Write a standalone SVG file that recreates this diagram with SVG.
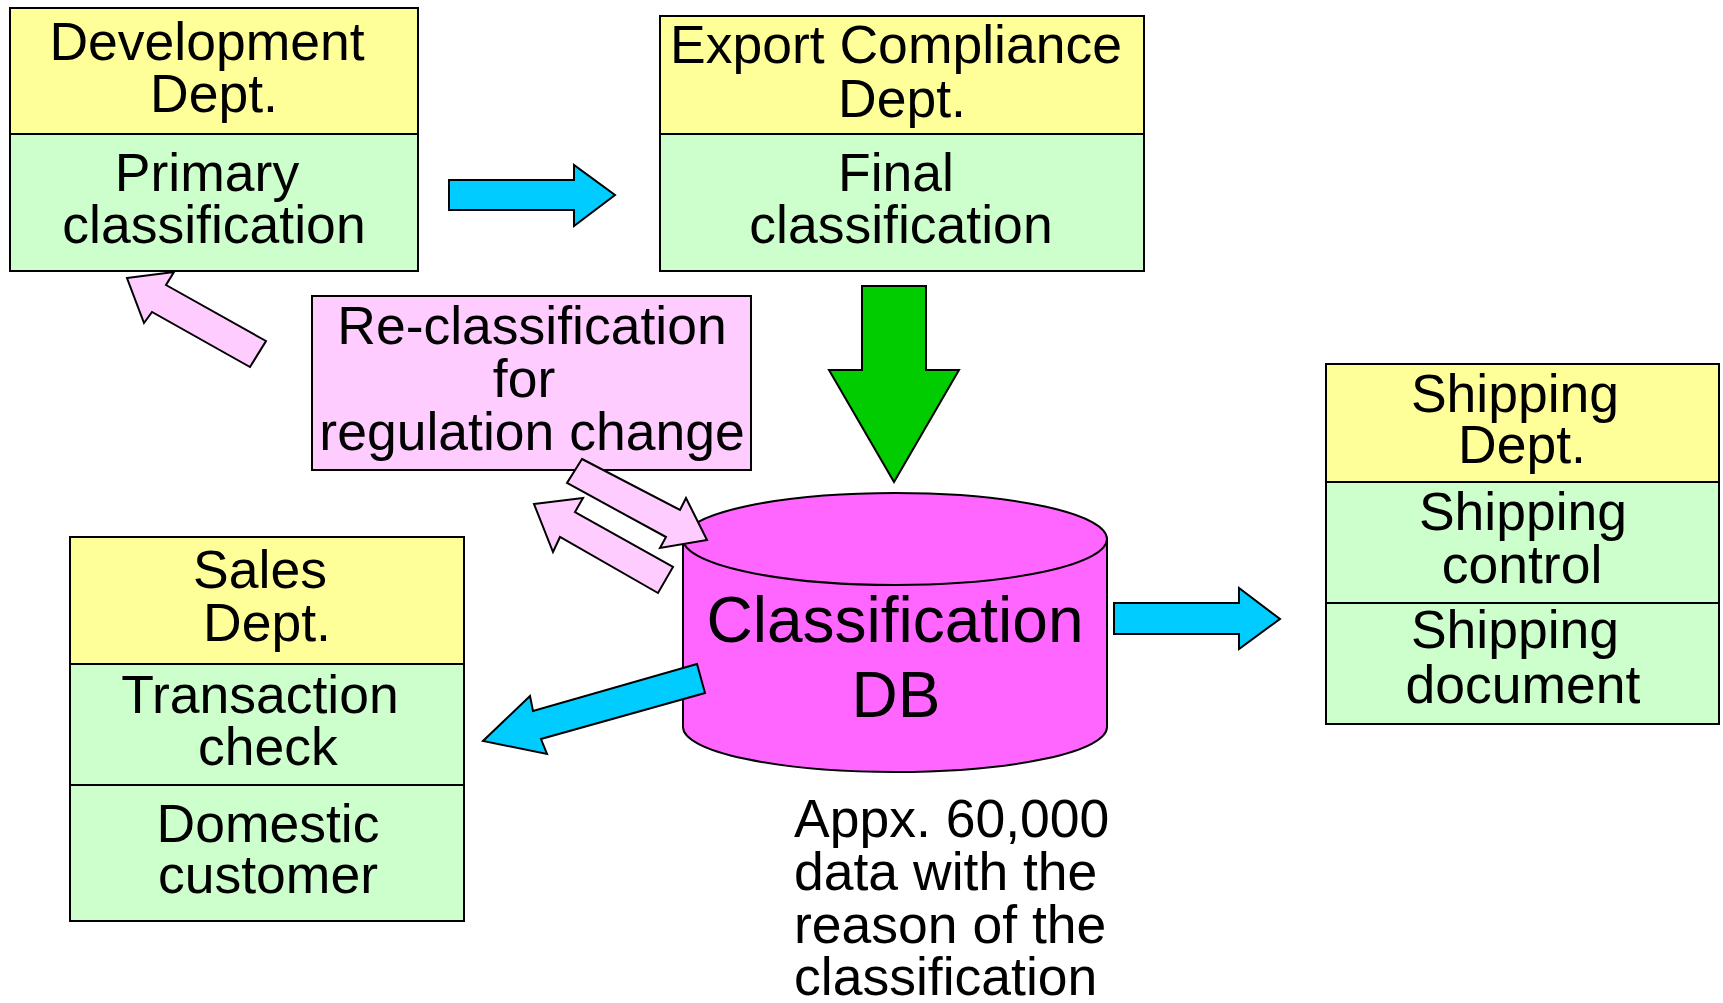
<svg xmlns="http://www.w3.org/2000/svg" width="1723" height="1003" viewBox="0 0 1723 1003">
<style>
  .t { font-family: "Liberation Sans", Arial, sans-serif; font-size: 53.5px; fill: #000; text-anchor: middle; }
  .tl { font-family: "Liberation Sans", Arial, sans-serif; font-size: 53.5px; fill: #000; text-anchor: start; }
  .db { font-family: "Liberation Sans", Arial, sans-serif; font-size: 64px; fill: #000; text-anchor: middle; }
  .hdr { fill: #FFFF99; stroke: #000; stroke-width: 2; }
  .body { fill: #CCFFCC; stroke: #000; stroke-width: 2; }
  .pink { fill: #FFCCFF; stroke: #000; stroke-width: 2; }
  .blue { fill: #00CCFF; stroke: #000; stroke-width: 2; stroke-linejoin: miter; }
  .green { fill: #00CC00; stroke: #000; stroke-width: 2; }
  .cyl { fill: #FF66FF; stroke: #000; stroke-width: 2; }
</style>
<rect width="1723" height="1003" fill="#fff"/>

<g id="dev-dept">
  <rect class="hdr" x="10" y="8" width="408" height="126"/>
  <rect class="body" x="10" y="134" width="408" height="137"/>
  <text class="t" x="207" y="60">Development</text>
  <text class="t" x="214" y="112">Dept.</text>
  <text class="t" x="207" y="191">Primary</text>
  <text class="t" x="214" y="243">classification</text>
</g>

<g id="export-dept">
  <rect class="hdr" x="660" y="16" width="484" height="118"/>
  <rect class="body" x="660" y="134" width="484" height="137"/>
  <text class="t" x="896" y="63">Export Compliance</text>
  <text class="t" x="902" y="117">Dept.</text>
  <text class="t" x="896" y="191">Final</text>
  <text class="t" x="901" y="243">classification</text>
</g>

<g id="reclass">
  <rect class="pink" x="312" y="296" width="439" height="174"/>
  <text class="t" x="532" y="344">Re-classification</text>
  <text class="t" x="524" y="397">for</text>
  <text class="t" x="532" y="450">regulation change</text>
</g>

<g id="sales-dept">
  <rect class="hdr" x="70" y="537" width="394" height="127"/>
  <rect class="body" x="70" y="664" width="394" height="121"/>
  <rect class="body" x="70" y="785" width="394" height="136"/>
  <text class="t" x="260" y="588">Sales</text>
  <text class="t" x="267" y="641">Dept.</text>
  <text class="t" x="260" y="713">Transaction</text>
  <text class="t" x="268" y="765">check</text>
  <text class="t" x="268" y="842">Domestic</text>
  <text class="t" x="268" y="893">customer</text>
</g>

<g id="shipping-dept">
  <rect class="hdr" x="1326" y="364" width="393" height="118"/>
  <rect class="body" x="1326" y="482" width="393" height="121"/>
  <rect class="body" x="1326" y="603" width="393" height="121"/>
  <text class="t" x="1515" y="412">Shipping</text>
  <text class="t" x="1522" y="463">Dept.</text>
  <text class="t" x="1523" y="530">Shipping</text>
  <text class="t" x="1522" y="583">control</text>
  <text class="t" x="1515" y="648">Shipping</text>
  <text class="t" x="1523" y="703">document</text>
</g>

<g id="classification-db">
  <path class="cyl" d="M683,539 L683,727 A212,45 0 0 0 1107,727 L1107,539 Z"/>
  <ellipse class="cyl" cx="895" cy="539" rx="212" ry="46"/>
  <text class="db" x="895" y="642">Classification</text>
  <text class="db" x="896" y="717">DB</text>
</g>

<g id="db-note">
  <text class="tl" x="794" y="837">Appx. 60,000</text>
  <text class="tl" x="794" y="890">data with the</text>
  <text class="tl" x="794" y="943">reason of the</text>
  <text class="tl" x="794" y="995">classification</text>
</g>

<g id="connectors">
  <polygon class="blue" points="449,180 574,180 574,165 615,195 574,226 574,210 449,210"/>
  <polygon class="green" points="862,286 926,286 926,370 959,370 894,482 829,370 862,370"/>
  <polygon class="blue" points="1114,603 1239,603 1239,588 1280,619 1239,649 1239,634 1114,634"/>
  <polygon class="blue" points="697,664 533,711 530,696 483,741 547,754 541,739 705,693"/>
  <polygon class="pink" points="127,278 174,272 166,285 266,341 250,367 152,312 144,323"/>
  <polygon class="pink" points="582,459 680,510 686,498 707,540 660,548 666,537 567,483"/>
  <polygon class="pink" points="534,504 583,498 575,512 673,567 658,593 560,537 553,552"/>
</g>
</svg>
